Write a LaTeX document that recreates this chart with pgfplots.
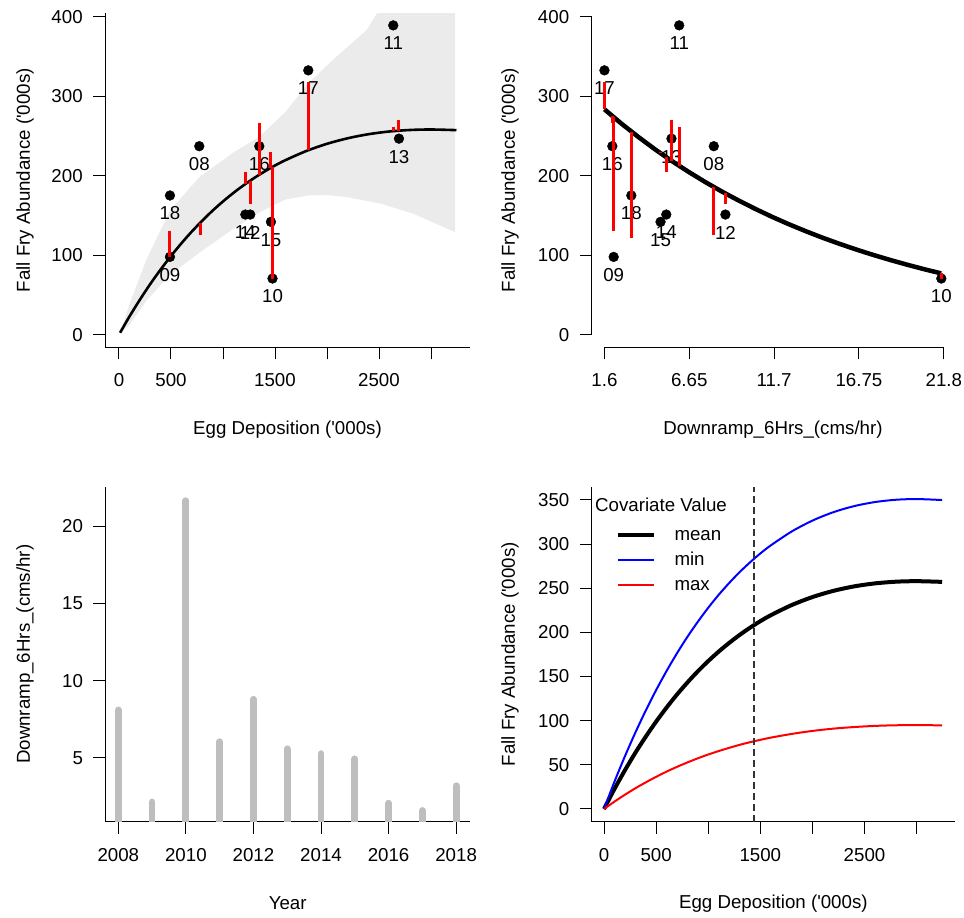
\documentclass[border=0pt]{standalone}
\usepackage{pgfplots}
\pgfplotsset{compat=1.18}
\usepackage{fontspec}
\setmainfont{Liberation Sans}[Ligatures=TeXOff]
\definecolor{band}{RGB}{235,235,235}
\definecolor{bargray}{RGB}{190,190,190}
\pgfplotsset{
  rstyle/.style={
    scale only axis, anchor=south west,
    font=\fontsize{18.7}{22}\selectfont,
    axis x line*=bottom, axis y line*=left,
    axis line style={line width=1pt, black, -},
    tick align=outside, major tick length=12pt,
    every tick/.style={line width=1pt, black},
    /pgf/number format/assume math mode=true,
    /pgf/number format/1000 sep={},
    yticklabel style={anchor=east, xshift=-6.8pt},
    xticklabel style={anchor=north, yshift=-11.1pt},
    clip mode=individual,
  },
  labs/.style={only marks, mark=*, mark size=4.9pt, black,
    nodes near coords, point meta=explicit symbolic,
    every node near coord/.style={anchor=center, yshift=-18pt, inner sep=0pt, black, font=\fontsize{18.7}{22}\selectfont}},
}
\begin{document}
\begin{tikzpicture}[x=1pt,y=1pt]
\useasboundingbox (0,0) rectangle (964,918);
% ---------------- top left ----------------
\begin{axis}[rstyle, at={(105pt,570.7pt)}, width=365pt, height=334pt,
  xmin=-134.6, xmax=3375, ymin=-16, ymax=404.2,
  xtick={0,500,1000,1500,2000,2500,3000}, xticklabels={0,500,,1500,,2500,},
  ytick={0,100,200,300,400},
  xlabel={Egg Deposition ('000s)}, ylabel={Fall Fry Abundance ('000s)},
  xlabel style={at={(axis description cs:0.5,-0.2476)}, anchor=center},
  ylabel style={at={(axis description cs:-0.2192,0.5)}, anchor=center}]
\addplot[fill=band, draw=none] coordinates {
 (16,3) (100,38) (266,95) (490,156) (772,198) (1099,229) (1350,249) (1600,280)
 (1820,316) (2060,346) (2380,383) (2480,404) (2700,435) (3000,470) (3231,500)
 (3231,129) (2830,152) (2510,165) (2189,173) (2000,175.5) (1820,175) (1600,170)
 (1356,154) (1099,133) (772,103) (490,75) (266,43) (100,12) (16,2)} -- cycle;
\addplot[black, line width=2.6pt, smooth] coordinates {
 (10,2.3) (100,22.6) (200,43.7) (300,63.5) (400,81.8) (500,98.9) (600,114.8)
 (700,129.6) (800,143.2) (900,155.9) (1000,167.5) (1100,178.2) (1200,188.0)
 (1300,197.0) (1400,205.2) (1500,212.7) (1600,219.4) (1800,230.9) (2000,240.0)
 (2200,247.0) (2400,252.1) (2600,255.5) (2800,257.4) (3000,258.0) (3245,257.2)};
\addplot[labs] table[x=S, y=F, meta=lab] {
S F lab
772 237 08
490 97.7 09
1476 70.5 10
2637 389 11
1262 151 12
2692 246.5 13
1215 151 14
1461 141.8 15
1349 237 16
1820 332.4 17
490 175 18
};
\addplot[red, line width=3pt, unbounded coords=jump] coordinates {
 (490,97.3) (490,130.5) (490,nan)
 (490,97.3) (490,121) (490,nan)
 (779,140.5) (779,125) (779,nan)
 (1215,189.6) (1215,204) (1215,nan)
 (1262,193.7) (1262,164) (1262,nan)
 (1349,201.1) (1349,266.5) (1349,nan)
 (1461,209.9) (1461,230) (1461,nan)
 (1476,210.8) (1476,70.5) (1476,nan)
 (1820,232) (1820,318) (1820,nan)
 (2637,255.9) (2637,260.6) (2637,nan)
 (2692,256.5) (2692,269.8)};
\end{axis}
% ---------------- top right ----------------
\begin{axis}[rstyle, at={(591.5pt,570.7pt)}, width=362.9pt, height=334pt,
  xmin=0.83, xmax=22.43, ymin=-16, ymax=404.2,
  axis line style={draw=none},
  xtick={1.6,6.65,11.7,16.75,21.8}, xticklabels={1.6,6.65,11.7,16.75,21.8},
  ytick={0,100,200,300,400},
  xlabel={Downramp\_6Hrs\_(cms/hr)}, ylabel={Fall Fry Abundance ('000s)},
  xlabel style={at={(axis description cs:0.5,-0.2476)}, anchor=center},
  ylabel style={at={(axis description cs:-0.2246,0.5)}, anchor=center}]
\draw[line width=1pt, black] (axis cs:1.6,-16) -- (axis cs:21.8,-16);
\draw[line width=1pt, black] (axis cs:0.83,0) -- (axis cs:0.83,400);
\addplot[labs] table[x=v, y=F, meta=lab] {
v F lab
8.11 237 08
2.15 97.7 09
21.65 70.5 10
6.05 389 11
8.8 151 12
5.59 246.5 13
5.28 151 14
4.94 141.8 15
2.07 237 16
1.6 332.4 17
3.2 175 18
};
\addplot[black, line width=4.5pt] coordinates {
 (1.6,283.4) (2.6,265.6) (3.6,248.9) (4.6,233.2) (5.6,218.5) (6.6,204.8)
 (7.6,191.9) (8.6,179.8) (9.6,168.5) (10.6,157.9) (11.6,147.9) (12.6,138.6)
 (13.6,129.9) (14.6,121.7) (15.6,114.1) (16.6,106.9) (17.6,100.2) (18.6,93.9)
 (19.6,88.0) (20.6,82.4) (21.6,77.2) (21.65,77.0)};
\addplot[red, line width=2.8pt, unbounded coords=jump] coordinates {
 (1.6,283.4) (1.6,318) (1.6,nan)
 (2.07,274.7) (2.07,266.5) (2.07,nan)
 (2.15,273.3) (2.15,130) (2.15,nan)
 (3.2,255.4) (3.2,121) (3.2,nan)
 (4.94,228.1) (4.94,230) (4.94,nan)
 (5.28,223.1) (5.28,204) (5.28,nan)
 (5.59,218.6) (5.59,269.8) (5.59,nan)
 (6.05,212.4) (6.05,260.6) (6.05,nan)
 (8.11,185.6) (8.11,125) (8.11,nan)
 (8.8,177.5) (8.8,164) (8.8,nan)
 (21.65,77.0) (21.65,70.5)};
\end{axis}
% ---------------- bottom left ----------------
\begin{axis}[rstyle, at={(105.3pt,96.3pt)}, width=364.7pt, height=335pt,
  xmin=2007.615, xmax=2018.41, ymin=0.874, ymax=22.56,
  xtick={2008,2010,2012,2014,2016,2018}, xticklabels={2008,2010,2012,2014,2016,2018},
  ytick={5,10,15,20},
  xlabel={Year}, ylabel={Downramp\_6Hrs\_(cms/hr)},
  xlabel style={at={(axis description cs:0.5,-0.2436)}, anchor=center},
  ylabel style={at={(axis description cs:-0.2202,0.5)}, anchor=center}]
\addplot[ycomb, bargray, line width=6.8pt, line cap=round] coordinates {
 (2008,8.11) (2009,2.15) (2010,21.65) (2011,6.05) (2012,8.8) (2013,5.59)
 (2014,5.28) (2015,4.94) (2016,2.07) (2017,1.6) (2018,3.2)};
\end{axis}
% ---------------- bottom right ----------------
\begin{axis}[rstyle, at={(591.7pt,96.3pt)}, width=363.3pt, height=335pt,
  xmin=-118, xmax=3368, ymin=-14.4, ymax=365,
  xtick={0,500,1000,1500,2000,2500,3000}, xticklabels={0,500,,1500,,2500,},
  ytick={0,50,100,150,200,250,300,350},
  xlabel={Egg Deposition ('000s)}, ylabel={Fall Fry Abundance ('000s)},
  xlabel style={at={(axis description cs:0.5,-0.2436)}, anchor=center},
  ylabel style={at={(axis description cs:-0.2249,0.5)}, anchor=center},
  legend image code/.code={\draw[#1] (0pt,0pt) -- (35.7pt,0pt);},
  legend style={at={(axis description cs:0.0669,0.8842)}, anchor=north west,
    draw=none, fill=none, inner sep=0pt, row sep=6.3pt,
    cells={anchor=west, inner sep=0pt, text height=13pt, text depth=4pt},
    /tikz/every odd column/.append style={column sep=16.6pt}}]
\addplot[black, line width=4pt, smooth] coordinates {
 (0,0) (100,22.6) (200,43.7) (300,63.5) (400,81.8) (500,98.9) (600,114.8)
 (700,129.6) (800,143.2) (900,155.9) (1000,167.5) (1100,178.2) (1200,188.0)
 (1300,197.0) (1400,205.2) (1500,212.7) (1600,219.4) (1800,230.9) (2000,240.0)
 (2200,247.0) (2400,252.1) (2600,255.5) (2800,257.4) (3000,258.0) (3245,257.2)};
\addlegendentry{mean}
\addplot[blue, line width=2pt, smooth] coordinates {
 (0,0) (100,30.8) (200,59.5) (300,86.3) (400,111.3) (500,134.6) (600,156.2)
 (700,176.3) (800,194.9) (900,212.0) (1000,227.9) (1100,242.5) (1200,255.8)
 (1300,268.1) (1400,279.2) (1500,289.4) (1600,298.5) (1800,314.2) (2000,326.6)
 (2200,336.1) (2400,343.0) (2600,347.6) (2800,350.2) (3000,351.0) (3245,349.9)};
\addlegendentry{min}
\addplot[red, line width=2pt, smooth] coordinates {
 (0,0) (100,8.3) (200,16.1) (300,23.4) (400,30.1) (500,36.4) (600,42.3)
 (700,47.7) (800,52.7) (900,57.4) (1000,61.7) (1100,65.6) (1200,69.2)
 (1300,72.6) (1400,75.6) (1500,78.3) (1600,80.8) (1800,85.0) (2000,88.4)
 (2200,91.0) (2400,92.8) (2600,94.1) (2800,94.8) (3000,95.0) (3245,94.7)};
\addlegendentry{max}
\addplot[forget plot, black!80, line width=1.2pt, dash pattern=on 7pt off 4pt] coordinates {(1440,-14.4) (1440,365)};
\node[anchor=west, inner sep=0pt] at (axis description cs:0.009,0.9454) {Covariate Value};
\end{axis}
\end{tikzpicture}
\end{document}
